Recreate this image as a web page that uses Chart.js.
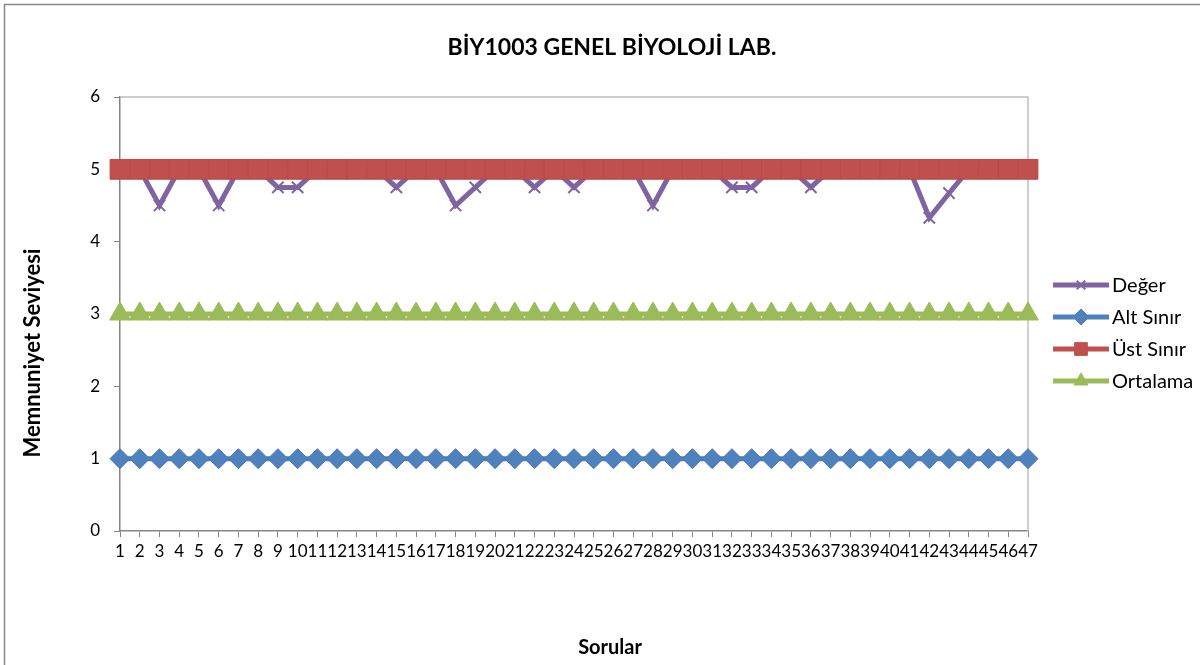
<!DOCTYPE html>
<html><head><meta charset="utf-8">
<script src="https://cdn.jsdelivr.net/npm/chart.js@4.4.1/dist/chart.umd.min.js"></script>
<style>html,body{margin:0;padding:0;background:#fff}#wrap{width:1200px;height:665px;position:relative}</style>
</head><body><div id="wrap"><canvas id="c" width="1200" height="665"></canvas></div>
<script>
const chartTitle = 'BİY1003 GENEL BİYOLOJİ LAB.';
const xTitle = 'Sorular';
const yTitle = 'Memnuniyet Seviyesi';
const categories = ['1','2','3','4','5','6','7','8','9','10','11','12','13','14','15','16','17','18','19','20','21','22','23','24','25','26','27','28','29','30','31','32','33','34','35','36','37','38','39','40','41','42','43','44','45','46','47'];
const deger = [5,5,4.5,5,5,4.5,5,5,4.75,4.75,5,5,5,5,4.75,5,5,4.5,4.75,5,5,4.75,5,4.75,5,5,5,4.5,5,5,5,4.75,4.75,5,5,4.75,5,5,5,5,5,4.33,4.67,5,5,5,5];
const altSinir = [1,1,1,1,1,1,1,1,1,1,1,1,1,1,1,1,1,1,1,1,1,1,1,1,1,1,1,1,1,1,1,1,1,1,1,1,1,1,1,1,1,1,1,1,1,1,1];
const ustSinir = [5,5,5,5,5,5,5,5,5,5,5,5,5,5,5,5,5,5,5,5,5,5,5,5,5,5,5,5,5,5,5,5,5,5,5,5,5,5,5,5,5,5,5,5,5,5,5];
const ortalama = [3,3,3,3,3,3,3,3,3,3,3,3,3,3,3,3,3,3,3,3,3,3,3,3,3,3,3,3,3,3,3,3,3,3,3,3,3,3,3,3,3,3,3,3,3,3,3];
const seriesNames = ['Değer','Alt Sınır','Üst Sınır','Ortalama'];
const yMin = 0, yMax = 6, yStep = 1;

Chart.defaults.font.family = 'Lato';
Chart.defaults.color = '#000';

const decor = {
  id: 'decor',
  beforeDatasetsDraw(chart) {
    const ctx = chart.ctx, a = chart.chartArea;
    ctx.save();
    ctx.strokeStyle = '#bfbfbf';
    ctx.lineWidth = 1.5;
    ctx.beginPath();
    ctx.moveTo(a.left, a.top);
    ctx.lineTo(a.right, a.top);
    ctx.lineTo(a.right, a.bottom);
    ctx.stroke();
    ctx.restore();
  },
  afterDraw(chart) {
    const ctx = chart.ctx;
    ctx.save();
    ctx.strokeStyle = '#898989';
    ctx.lineWidth = 1.5;
    ctx.strokeRect(4.5, 4.5, 1220, 700);
    ctx.fillStyle = '#000';
    ctx.textAlign = 'center';
    ctx.textBaseline = 'middle';
    ctx.font = 'bold 23px Lato';
    ctx.fillText(chartTitle, 612, 48);
    ctx.font = 'bold 20px Lato';
    ctx.fillText(xTitle, 610, 648);
    ctx.save();
    ctx.translate(33, 353);
    ctx.rotate(-Math.PI / 2);
    ctx.font = 'bold 22px Lato';
    ctx.fillText(yTitle, 0, 0);
    ctx.restore();
    const rows = [285, 317, 349, 381];
    const legR = [6, 8, 9, 8];
    chart.data.datasets.forEach((ds, i) => {
      const y = rows[i];
      ctx.strokeStyle = ds.borderColor;
      ctx.lineWidth = 5;
      ctx.beginPath();
      ctx.moveTo(1053, y);
      ctx.lineTo(1109, y);
      ctx.stroke();
      ctx.fillStyle = ds.backgroundColor;
      ctx.strokeStyle = ds.borderColor;
      ctx.lineWidth = ds.pointBorderWidth;
      Chart.helpers.drawPoint(ctx, {pointStyle: ds.pointStyle, rotation: 0, radius: legR[i], borderWidth: ds.pointBorderWidth}, 1081, y);
      ctx.fillStyle = '#000';
      ctx.font = '20px Lato';
      ctx.textAlign = 'left';
      ctx.textBaseline = 'middle';
      ctx.fillText(ds.label, 1112, y + 1);
    });
    ctx.restore();
  }
};

new Chart(document.getElementById('c'), {
  type: 'line',
  data: {
    labels: categories,
    datasets: [
      {label: seriesNames[0], data: deger, borderColor: '#8064A2', backgroundColor: '#8064A2', borderWidth: 5,
       pointStyle: 'crossRot', pointRadius: 8, pointBorderWidth: 2, pointBorderColor: '#8064A2', order: 4, clip: false},
      {label: seriesNames[1], data: altSinir, borderColor: '#4F81BD', backgroundColor: '#4F81BD', borderWidth: 5,
       pointStyle: 'rectRot', pointRadius: 10, pointBorderWidth: 1, pointBorderColor: '#4A7AB5', order: 3, clip: false},
      {label: seriesNames[2], data: ustSinir, borderColor: '#C0504D', backgroundColor: '#C0504D', borderWidth: 5,
       pointStyle: 'rect', pointRadius: 14, pointBorderWidth: 1, pointBorderColor: '#B84A47', order: 2, clip: false},
      {label: seriesNames[3], data: ortalama, borderColor: '#9BBB59', backgroundColor: '#9BBB59', borderWidth: 5,
       pointStyle: 'triangle', pointRadius: 12, pointBorderWidth: 1, pointBorderColor: '#9BBB59', order: 1, clip: false}
    ]
  },
  options: {
    responsive: false,
    animation: false,
    devicePixelRatio: 1,
    layout: {padding: {left: 10, top: 97, right: 172, bottom: 0}},
    plugins: {legend: {display: false}, tooltip: {enabled: false}, title: {display: false}},
    scales: {
      x: {
        type: 'category',
        offset: false,
        grid: {drawOnChartArea: false, drawTicks: true, tickLength: 6, color: '#868686', lineWidth: 1},
        border: {color: '#868686', width: 1.5},
        ticks: {autoSkip: false, maxRotation: 0, minRotation: 0, padding: 4, color: '#000', font: {size: 17}},
        afterFit(s) { s.height = 134; }
      },
      y: {
        min: yMin, max: yMax,
        grid: {drawOnChartArea: false, drawTicks: true, tickLength: 6, color: '#868686', lineWidth: 1},
        border: {color: '#868686', width: 1.5},
        ticks: {stepSize: yStep, padding: 14, color: '#000', font: {size: 17}},
        afterFit(s) { s.width = 110; }
      }
    }
  },
  plugins: [decor]
});
</script>
</body></html>
